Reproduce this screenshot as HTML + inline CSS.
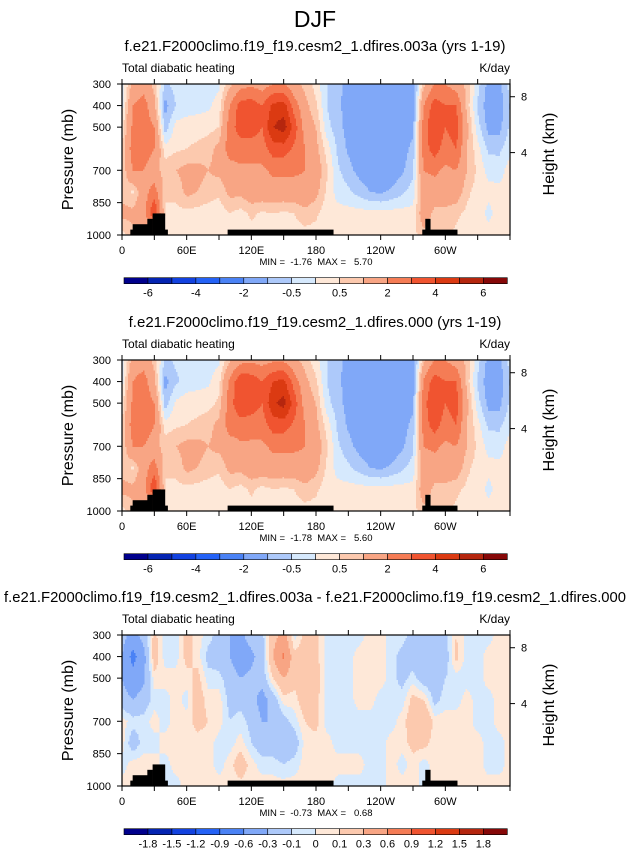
<!DOCTYPE html>
<html><head><meta charset="utf-8"><style>
body{margin:0;background:#fff;}
svg{display:block;font-family:"Liberation Sans",sans-serif;}
</style></head><body>
<svg id="chart" width="631" height="851" viewBox="0 0 631 851">
<text x="315" y="27" text-anchor="middle" font-size="23">DJF</text>
<g id="p0"></g>
<g id="p1"></g>
<g id="p2"></g>
</svg>
<script>
const lons = [0,10,20,30,40,50,60,70,80,90,100,110,120,130,140,150,160,170,180,190,200,210,220,230,240,250,260,270,280,290,300,310,320,330,340,350,360];
const pressures = [300,400,500,600,700,800,900,1000];
const lonTickLabels = ["0","60E","120E","180","120W","60W"];
const lonTickValues = [0,60,120,180,240,300];
const presTickValues = [300,400,500,700,850,1000];
const heightTickKm = [8,4];
const heightTickPres = [359,618];
const levelsMain = [-6,-5,-4,-3,-2,-1,-0.5,0,0.5,1,2,3,4,5,6];
const levelsMainLabels = ["-6","-4","-2","-0.5","0.5","2","4","6"];
const levelsDiff = [-1.8,-1.5,-1.2,-0.9,-0.6,-0.3,-0.1,0,0.1,0.3,0.6,0.9,1.2,1.5,1.8];
const levelsDiffLabels = ["-1.8","-1.5","-1.2","-0.9","-0.6","-0.3","-0.1","0","0.1","0.3","0.6","0.9","1.2","1.5","1.8"];
const palette = ["#00008c","#0424b2","#1242e0","#2462f6","#4a82f5","#80a8f8","#adc9fa","#d6e9fd","#fee8d8","#fcc9ae","#f8a584","#f57c55","#f05430","#db3a12","#b5260e","#860808"];
// topography: [lonStart, lonEnd, surface pressure]
const topoStart = [7.7,9.9,23.5,28.4,39.8,98,278.6,281.4,286];
const topoEnd = [9.9,23.5,28.4,39.8,42.3,196,281.4,286,311];
const topoPres = [975,950,925,900,975,975,975,925,975];

// Panel 1 (003a) values, K/day
const a300 = [-0.3,1.2,1.5,0.8,-0.6,-0.3,-0.3,-0.3,-0.2,-0.1,0.8,1.5,1.8,1.5,2,2,1.2,0.8,0.3,-0.5,-0.9,-1.1,-1.5,-1.5,-1.5,-1.5,-1.5,-1.4,0.8,2,2,1.5,0.8,-0.3,-1.2,-1.2,-0.3];
const a400 = [-0.2,2,2.5,1.2,-1.2,-0.5,-0.3,-0.2,-0.1,0.2,2,3.5,3.5,3,4.2,4.5,2.5,1.2,0.6,-0.5,-0.9,-1.2,-1.5,-1.5,-1.5,-1.5,-1.5,-1.4,2,3.5,3,3,0.8,-0.6,-1.3,-1.3,-0.5];
const a500 = [0.2,2.2,2.5,2,-0.8,0.2,0.3,0.3,0.3,0.5,2.5,3.5,3.5,3,5,5.5,3.5,1.5,1,-0.3,-0.8,-1.2,-1.5,-1.5,-1.5,-1.5,-1.4,-1.2,2.5,4,3,3.5,1.2,-0.3,-1.2,-1.2,-0.4];
const a600 = [0.5,2.5,2.8,2,0.2,0.4,0.5,0.6,0.8,1.2,2.5,2.5,2.5,2.5,3.5,3.5,2.8,2,1.2,0.3,-0.6,-1.1,-1.4,-1.5,-1.5,-1.5,-1.3,-0.8,2.5,3.5,2.5,3,1,0.2,-0.6,-0.6,-0.2];
const a700 = [0.5,2,2,1.2,0.8,1,1.2,1.2,1,1.2,1.5,1.8,1.8,1.8,2.2,2.2,2.2,2,1.5,0.6,-0.4,-0.8,-1.2,-1.4,-1.4,-1.4,-1.1,-0.6,2,2.2,1.8,2,1,0.4,-0.2,-0.3,0.3];
const a800 = [0.8,0.4,1.5,2.5,0.6,0.6,1.2,1,0.8,0.6,1.2,1.2,1.5,1.5,1.5,1.5,1.5,1.6,1.2,0.4,-0.2,-0.4,-0.7,-1,-1.1,-0.9,-0.6,-0.3,1.5,1.5,1.5,1.5,0.6,0.3,0.2,0.2,0.2];
const a900 = [1.2,1.2,1.5,4,0.4,0.4,0.3,0.3,0.2,0.2,0.5,0.3,0.6,0.4,0.5,0.4,0.5,0.8,0.6,0.2,0.2,0.2,0.2,0.2,0.2,0.2,0.2,0.2,1.5,0.8,0.8,0.6,0.4,0.4,-0.2,0.3,0.5];
const a1000 = [0.3,0.8,0.8,0.8,0.3,0.3,0.3,0.3,0.3,0.3,0.3,0.3,0.3,0.3,0.3,0.3,0.3,0.3,0.3,0.3,0.3,0.3,0.3,0.3,0.3,0.3,0.3,0.3,0.8,0.6,0.6,0.4,0.3,0.3,0.3,0.3,0.3];
// Panel 2 (000) values, K/day
const b300 = [-0.3,1.3,1.5,0.8,-0.6,-0.4,-0.3,-0.3,-0.2,-0.1,0.9,1.6,1.8,1.6,1.8,1.8,1.2,0.7,0.2,-0.5,-0.9,-1.1,-1.5,-1.5,-1.5,-1.5,-1.5,-1.4,0.9,2,2,1.5,0.8,-0.3,-1.2,-1.2,-0.3];
const b400 = [-0.2,2,2.5,1.2,-1.2,-0.6,-0.3,-0.2,-0.1,0.3,2.2,3.8,3.6,3,4,4.3,2.5,1.2,0.6,-0.5,-0.9,-1.2,-1.5,-1.5,-1.5,-1.5,-1.5,-1.4,2.2,3.5,3,3,0.8,-0.6,-1.3,-1.3,-0.5];
const b500 = [0.2,2.2,2.6,2,-0.8,0.1,0.3,0.3,0.3,0.6,2.6,3.8,3.6,3,4.8,5.4,3.5,1.5,1,-0.3,-0.8,-1.2,-1.5,-1.5,-1.5,-1.5,-1.4,-1.2,2.6,4,3,3.5,1.2,-0.3,-1.2,-1.2,-0.4];
const b600 = [0.5,2.5,3,2,0.2,0.4,0.5,0.6,0.8,1.2,2.5,2.6,2.5,2.5,3.5,3.5,2.8,2,1.2,0.3,-0.6,-1.1,-1.4,-1.5,-1.5,-1.5,-1.3,-0.8,2.5,3.5,2.5,3,1,0.2,-0.6,-0.6,-0.2];
const b700 = [0.5,2,2,1.2,0.8,1,1.2,1.2,1,1.2,1.5,1.8,1.8,1.8,2.2,2.2,2.2,2,1.5,0.6,-0.4,-0.8,-1.2,-1.4,-1.4,-1.4,-1.1,-0.6,2,2.2,1.8,2,1,0.4,-0.2,-0.3,0.3];
const b800 = [0.8,0.4,1.5,2.5,0.6,0.6,1.2,1,0.8,0.6,1.2,1.2,1.5,1.5,1.5,1.5,1.5,1.6,1.2,0.4,-0.2,-0.4,-0.7,-1,-1.1,-0.9,-0.6,-0.3,1.5,1.5,1.5,1.5,0.6,0.3,0.2,0.2,0.2];
const b900 = [1.2,1.2,1.5,4,0.4,0.4,0.3,0.3,0.2,0.2,0.5,0.3,0.6,0.3,0.5,0.4,0.5,0.8,0.6,0.2,0.2,0.2,0.2,0.2,0.2,0.2,0.2,0.2,1.5,0.8,0.8,0.6,0.4,0.4,-0.2,0.3,0.5];
const b1000 = [0.3,0.8,0.8,0.8,0.3,0.3,0.3,0.3,0.3,0.3,0.3,0.3,0.3,0.3,0.3,0.3,0.3,0.3,0.3,0.3,0.3,0.3,0.3,0.3,0.3,0.3,0.3,0.3,0.8,0.6,0.6,0.4,0.3,0.3,0.3,0.3,0.3];
// Panel 3 (difference) values, K/day
const d300 = [-0.2,-0.4,-0.2,0.15,-0.05,-0.05,0.15,0.05,-0.05,-0.15,-0.3,-0.35,-0.2,-0.15,0.2,0.4,-0.05,0.15,0.15,-0.05,-0.05,-0.05,-0.05,0.05,0.05,-0.05,-0.05,-0.15,-0.2,-0.2,-0.15,0.1,-0.05,-0.05,-0.05,0.05,0.05];
const d400 = [-0.3,-0.7,-0.4,0.2,-0.05,-0.05,0.15,0.05,-0.15,-0.2,-0.3,-0.45,-0.35,-0.2,0.3,0.65,0.15,0.2,0.15,-0.05,-0.1,-0.05,0.05,0.05,0.05,-0.05,-0.15,-0.2,-0.25,-0.25,-0.2,0.15,-0.05,-0.05,0.05,0.05,0.05];
const d500 = [-0.3,-0.5,-0.35,0.05,0.05,0.05,0.05,0.15,-0.05,-0.05,-0.2,-0.3,-0.25,-0.2,0.1,0.3,0.15,0.25,0.2,-0.05,-0.05,-0.05,0.05,0.05,0.05,-0.05,-0.15,-0.05,-0.2,-0.2,-0.1,-0.05,-0.05,-0.05,0.05,0.05,0.05];
const d600 = [-0.2,-0.3,-0.2,-0.05,-0.05,0.05,-0.05,0.2,0.05,0.05,-0.15,-0.15,-0.2,-0.4,-0.2,0.05,0.05,0.2,0.15,-0.05,-0.05,-0.05,0.05,0.05,-0.05,-0.05,-0.05,0.15,0.1,-0.15,-0.05,-0.05,0.05,-0.05,-0.05,0.05,0.05];
const d700 = [0.05,-0.05,-0.05,0.05,-0.05,0.05,0.05,0.15,0.1,0.05,-0.1,-0.05,-0.15,-0.3,-0.3,-0.15,-0.05,0.1,0.15,-0.05,-0.05,-0.05,-0.05,-0.05,-0.05,-0.05,0.05,0.2,0.3,0.05,0.05,0.05,0.05,-0.05,-0.05,0.05,0.05];
const d800 = [0.05,-0.2,-0.05,-0.05,0.05,0.05,0.05,0.05,0.05,-0.05,-0.05,0.05,-0.1,-0.2,-0.2,-0.25,-0.2,0.05,0.05,0.05,-0.05,-0.05,-0.05,-0.05,-0.05,0.05,0.05,0.15,0.15,0.05,0.05,0.05,0.05,0.05,-0.05,-0.05,0.05];
const d900 = [-0.05,0.05,0.05,0.05,-0.05,0.05,0.05,0.05,0.05,-0.05,0.05,0.2,0.05,-0.05,-0.05,-0.1,-0.05,0.05,0.05,0.05,0.05,0.05,0.05,-0.05,-0.05,0.05,-0.05,0.05,-0.05,0.05,0.05,0.05,0.05,0.05,-0.05,-0.05,0.05];
const d1000 = [0.05,0.05,0.05,0.05,-0.05,-0.05,0.05,0.05,0.05,0.05,0.05,0.05,0.05,0.05,0.05,0.05,0.05,0.05,0.05,0.05,-0.05,-0.05,-0.05,-0.05,-0.05,0.05,0.05,0.05,-0.05,0.05,0.05,0.05,0.05,0.05,0.05,0.05,0.05];

const titles = ["f.e21.F2000climo.f19_f19.cesm2_1.dfires.003a (yrs 1-19)","f.e21.F2000climo.f19_f19.cesm2_1.dfires.000 (yrs 1-19)","f.e21.F2000climo.f19_f19.cesm2_1.dfires.003a - f.e21.F2000climo.f19_f19.cesm2_1.dfires.000"];
const minMaxText = ["MIN =  -1.76  MAX =   5.70","MIN =  -1.78  MAX =   5.60","MIN =  -0.73  MAX =   0.68"];

const NS = "http://www.w3.org/2000/svg";
const X0 = 122, W = 388, PH = 151;
function mk(parent, tag, attrs, text){
  const e = document.createElementNS(NS, tag);
  for (const k in attrs) e.setAttribute(k, attrs[k]);
  if (text !== undefined) e.textContent = text;
  parent.appendChild(e);
  return e;
}
function xOf(lon){ return X0 + lon * W / 360; }

function drawPanel(g, off, rows, levels, cbLabels, cbLabelLevels, title, mm, wideTitle){
  const Y0 = 84 + off;
  function yOf(p){ return Y0 + (p - 300) * PH / 700; }
  function val(lon, p){
    lon = Math.max(0, Math.min(360, lon)); p = Math.max(300, Math.min(1000, p));
    let fi = lon / 10, fj = (p - 300) / 100;
    let i = Math.min(Math.floor(fi), lons.length - 2), j = Math.min(Math.floor(fj), pressures.length - 2);
    const tx = fi - i, ty = fj - j;
    return rows[j][i]*(1-tx)*(1-ty) + rows[j][i+1]*tx*(1-ty) + rows[j+1][i]*(1-tx)*ty + rows[j+1][i+1]*tx*ty;
  }
  function cidx(v){ let k = 0; while (k < levels.length && v >= levels[k]) k++; return k; }
  const t = mk(g, "text", {x:315, y:51+off, "text-anchor":"middle", "font-size":15}, title);
  
  
  if (wideTitle) { t.setAttribute("textLength", 622); t.setAttribute("lengthAdjust","spacingAndGlyphs"); }
  const l1 = mk(g, "text", {x:X0, y:72+off, "font-size":12}, "Total diabatic heating");
  
  
  const l2 = mk(g, "text", {x:X0+W, y:72+off, "font-size":12, "text-anchor":"end"}, "K/day");
  
  
  const field = mk(g, "g", {});
  
  
  const cs = 1.5;
  const nx = Math.ceil(W / cs), ny = Math.ceil(PH / cs);
  function flush(x0, x1, y, c){
    const r = mk(field, "rect", {x:X0+x0, y:Y0+y, width:x1-x0+0.4, height:Math.min(cs+0.4, PH-y), fill:palette[c]});
    
    
  }
  for (let iy = 0; iy < ny; iy++) {
    const py = iy * cs;
    const p = 300 + (py + cs/2) * 700 / PH;
    let runStart = 0, runC = -1;
    for (let ix = 0; ix < nx; ix++) {
      const px = ix * cs;
      const lon = (px + cs/2) * 360 / W;
      const c = cidx(val(lon, p));
      if (c !== runC) {
        if (runC >= 0) flush(runStart, px, py, runC);
        runStart = px; runC = c;
      }
    }
    flush(runStart, W - 0.4, py, runC);
  }
  for (let k = 0; k < topoStart.length; k++) {
    const r = mk(g, "rect", {x:xOf(topoStart[k]), y:yOf(topoPres[k]), width:xOf(topoEnd[k])-xOf(topoStart[k])+0.3, height:yOf(1000)-yOf(topoPres[k]), fill:"#000"});
    
    
  }
  const fr = mk(g, "rect", {x:X0, y:Y0, width:W, height:PH, fill:"none", stroke:"#000", "stroke-width":1.2});
  
  
  for (let lon = 0; lon <= 360; lon += 30) {
    const x = xOf(lon);
    const tb = mk(g, "line", {x1:x, x2:x, y1:Y0+PH, y2:Y0+PH+5, stroke:"#000", "stroke-width":1});
    
    
    const tt = mk(g, "line", {x1:x, x2:x, y1:Y0, y2:Y0-5, stroke:"#000", "stroke-width":1});
    
    
  }
  for (let k = 0; k < lonTickValues.length; k++) {
    const tl = mk(g, "text", {x:xOf(lonTickValues[k]), y:Y0+PH+19, "font-size":11, "text-anchor":"middle"}, lonTickLabels[k]);
    
    
  }
  for (let k = 0; k < presTickValues.length; k++) {
    const y = yOf(presTickValues[k]);
    const tk = mk(g, "line", {x1:X0-5, x2:X0, y1:y, y2:y, stroke:"#000", "stroke-width":1});
    
    
    const tl = mk(g, "text", {x:X0-11, y:y+4, "font-size":11, "text-anchor":"end"}, String(presTickValues[k]));
    
    
  }
  for (let k = 0; k < heightTickKm.length; k++) {
    const y = yOf(heightTickPres[k]);
    const tk = mk(g, "line", {x1:X0+W, x2:X0+W+5, y1:y, y2:y, stroke:"#000", "stroke-width":1});
    
    
    const tl = mk(g, "text", {x:X0+W+11, y:y+4, "font-size":11}, String(heightTickKm[k]));
    
    
  }
  const yt = mk(g, "text", {x:0, y:0, "font-size":16, "text-anchor":"middle", transform:`translate(73,${Y0+PH/2}) rotate(-90)`}, "Pressure (mb)");
  
  
  const ht = mk(g, "text", {x:0, y:0, "font-size":16, "text-anchor":"middle", transform:`translate(554,${Y0+70}) rotate(-90)`}, "Height (km)");
  
  
  const mmT = mk(g, "text", {x:316, y:Y0+PH+30, "font-size":9.5, "text-anchor":"middle", style:"white-space:pre"}, mm);
  
  
  const cbX = 124, cbW = 383.3, cbY = Y0 + 193.7, bw = cbW / palette.length;
  for (let k = 0; k < palette.length; k++) {
    const r = mk(g, "rect", {x:cbX+k*bw, y:cbY, width:bw, height:6, fill:palette[k], stroke:"#000", "stroke-width":0.6});
    
    
  }
  for (let k = 0; k < cbLabels.length; k++) {
    const idx = levels.indexOf(cbLabelLevels[k]);
    const cl = mk(g, "text", {x:cbX+(idx+1)*bw, y:cbY+19, "font-size":11, "text-anchor":"middle"}, cbLabels[k]);
    
    
  }
}
const mainLabelLevels = [-6,-4,-2,-0.5,0.5,2,4,6];
drawPanel(document.getElementById("p0"), 0, [a300,a400,a500,a600,a700,a800,a900,a1000], levelsMain, levelsMainLabels, mainLabelLevels, titles[0], minMaxText[0], false);
drawPanel(document.getElementById("p1"), 276, [b300,b400,b500,b600,b700,b800,b900,b1000], levelsMain, levelsMainLabels, mainLabelLevels, titles[1], minMaxText[1], false);
drawPanel(document.getElementById("p2"), 551, [d300,d400,d500,d600,d700,d800,d900,d1000], levelsDiff, levelsDiffLabels, levelsDiff, titles[2], minMaxText[2], true);
</script>
</body></html>
